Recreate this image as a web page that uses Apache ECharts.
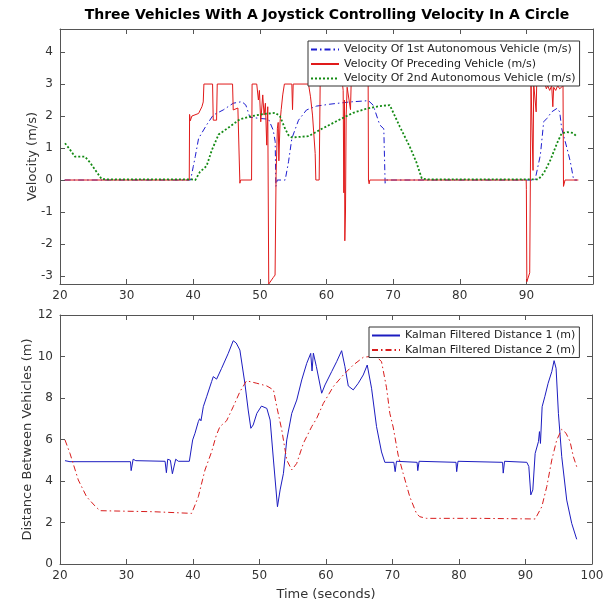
<!DOCTYPE html>
<html>
<head>
<meta charset="utf-8">
<script src="https://cdn.jsdelivr.net/npm/echarts@6/dist/echarts.min.js"></script>
<style>
html,body{margin:0;padding:0;background:#fff}
#main{width:608px;height:603px}
</style>
</head>
<body>
<div id="main"></div>
<script>
// velocity plot: [time (s), velocity (m/s)]
var vel1st = [[20.7,0],[39.6,0],[40.0,0.42],[40.3,0.73],[40.8,1.3],[41.0,1.35],[42.0,1.72],[43.0,2.03],[44.5,2.19],[46.0,2.4],[47.3,2.45],[47.9,2.34],[48.5,1.96],[50.3,1.92],[51.3,1.9],[52.0,1.56],[52.3,1.2],[52.4,-0.2],[52.6,0],[53.8,0],[54.3,0.57],[54.8,1.3],[55.8,1.87],[57.0,2.19],[58.5,2.31],[60.5,2.37],[63.5,2.44],[66.3,2.48],[67.0,2.34],[68.0,1.72],[68.6,1.6],[68.8,-0.1],[69.0,0],[91.3,0],[92.1,0.78],[92.6,1.82],[93.1,1.93],[93.8,2.13],[94.6,2.24],[95.0,2.13],[95.3,1.61],[96.1,0.99],[96.6,0.57],[97.1,0],[97.6,0]];
var velLead = [[20.7,0],[39.4,0],[39.45,2.05],[39.55,1.85],[39.8,2.0],[40.8,2.08],[41.3,2.29],[41.5,2.44],[41.6,3.0],[42.9,3.0],[43.0,1.87],[43.5,1.87],[43.6,3.0],[45.9,3.0],[46.0,2.19],[46.7,2.25],[47.0,-0.1],[47.1,0],[48.75,0],[48.83,3.0],[49.53,3.0],[49.78,2.5],[49.93,2.8],[50.13,1.82],[50.43,2.66],[50.63,2.03],[50.83,2.4],[51.03,1.09],[51.18,2.29],[51.33,-3.25],[51.63,-3.25],[52.0,-3.05],[52.28,-2.97],[52.43,0.16],[52.63,1.62],[52.75,1.8],[52.85,0.6],[53.03,1.82],[53.2,2.2],[53.43,2.66],[53.68,3.0],[54.8,3.0],[54.9,2.2],[55.0,3.0],[57.3,3.0],[57.6,2.6],[57.9,2.03],[58.3,0.83],[58.4,0],[58.9,0],[59.05,3.0],[62.4,3.0],[62.5,2.8],[62.6,-0.4],[62.7,2.5],[62.75,-1.9],[62.85,-1.0],[62.95,2.0],[63.1,2.9],[63.4,2.9],[63.6,2.2],[63.7,3.0],[66.25,3.0],[66.3,0],[66.4,-0.12],[66.5,0],[89.97,0],[90.0,-0.3],[90.07,-3.18],[90.3,-3.18],[90.5,-2.9],[90.7,3.0],[90.95,3.0],[91.0,0.3],[91.1,3.0],[91.4,3.0],[91.47,2.13],[91.55,3.0],[92.8,3.0],[93.0,2.85],[93.2,2.95],[93.5,2.8],[93.8,2.95],[93.97,2.29],[94.1,2.9],[94.4,2.8],[94.7,2.95],[95.0,2.85],[95.5,2.95],[95.57,-0.2],[95.7,-0.2],[95.8,0],[97.8,0]];
var vel2nd = [[20.75,1.15],[21.5,0.95],[22.25,0.73],[23.75,0.73],[24.5,0.55],[25.5,0.25],[26.25,0.03],[27.0,0.02],[39.8,0.02],[40.3,0],[41.0,0.25],[42.0,0.44],[42.8,0.94],[43.8,1.42],[45.5,1.67],[47.0,1.9],[48.8,2.0],[50.5,2.06],[52.3,2.1],[53.0,2.0],[53.8,1.6],[54.3,1.4],[54.8,1.33],[57.3,1.37],[59.3,1.6],[61.8,1.87],[64.0,2.1],[66.0,2.23],[68.0,2.31],[69.5,2.34],[69.7,2.3],[71.0,1.67],[72.5,1.04],[73.5,0.55],[74.3,0.05],[75.0,0.02],[91.8,0.02],[92.6,0.21],[93.6,0.62],[94.6,1.15],[95.3,1.46],[96.1,1.5],[97.0,1.47],[97.6,1.35]];

// distance plot: [time (s), distance (m)]
var dist1 = [[20.75,4.98],[21.5,4.93],[30.6,4.93],[30.7,4.5],[30.85,4.5],[31.0,5.05],[31.4,4.98],[35.8,4.95],[36.0,4.4],[36.2,5.05],[36.6,5.0],[36.9,4.35],[37.1,4.4],[37.4,5.05],[37.8,4.95],[39.45,4.95],[39.95,5.98],[40.3,6.3],[40.8,6.86],[41.0,7.0],[41.2,6.9],[41.55,7.58],[42.05,8.06],[42.8,8.79],[43.05,9.03],[43.55,8.91],[44.3,9.43],[45.3,10.15],[46.05,10.76],[46.5,10.65],[47.05,10.31],[47.8,8.71],[48.3,7.42],[48.7,6.54],[49.05,6.7],[49.6,7.26],[50.3,7.61],[51.1,7.5],[51.6,6.94],[52.1,5.01],[52.7,2.76],[53.1,3.57],[53.6,4.37],[54.1,5.98],[54.85,7.26],[55.6,7.9],[56.35,8.87],[57.1,9.67],[57.7,10.15],[57.9,9.3],[58.1,10.16],[58.3,10.1],[58.55,9.52],[59.35,8.23],[59.85,8.63],[60.85,9.27],[61.6,9.75],[62.35,10.28],[62.85,9.51],[63.35,8.58],[64.1,8.39],[64.85,8.71],[65.6,9.11],[66.2,9.59],[66.85,8.47],[67.6,6.62],[68.35,5.4],[68.85,4.9],[70.2,4.9],[70.4,4.45],[70.6,4.95],[73.7,4.9],[73.8,4.5],[74.0,4.95],[79.55,4.9],[79.65,4.45],[79.85,4.95],[86.55,4.9],[86.65,4.38],[86.85,4.95],[90.2,4.9],[90.5,4.7],[90.8,3.33],[91.1,3.57],[91.45,5.33],[91.95,5.9],[92.1,6.38],[92.25,5.81],[92.5,7.58],[92.9,8.06],[93.4,8.71],[93.95,9.27],[94.3,9.8],[94.6,9.43],[94.95,7.26],[95.45,5.17],[96.2,3.08],[96.95,1.96],[97.7,1.19]];
var dist2 = [[20.75,5.98],[21.5,5.33],[22.75,4.05],[24.0,3.24],[25.25,2.8],[26.0,2.57],[29.0,2.55],[34.0,2.52],[39.8,2.44],[40.05,2.52],[40.8,3.24],[41.8,4.53],[42.8,5.41],[43.5,6.2],[44.05,6.62],[45.05,6.9],[46.05,7.58],[47.05,8.3],[48.05,8.83],[49.6,8.71],[51.1,8.58],[52.1,8.39],[52.6,7.58],[53.35,6.46],[54.1,5.01],[54.85,4.53],[55.6,4.85],[56.6,5.82],[57.85,6.62],[58.6,7.02],[59.6,7.74],[61.1,8.55],[62.6,9.11],[64.1,9.59],[65.6,9.96],[66.6,10.0],[67.6,10.0],[68.35,9.75],[69.1,8.5],[69.6,7.26],[70.1,6.6],[70.85,5.25],[71.6,4.37],[72.6,3.24],[73.6,2.44],[74.1,2.28],[75.1,2.2],[83.1,2.2],[91.45,2.17],[92.45,2.76],[93.2,3.73],[93.95,5.01],[94.7,5.98],[95.45,6.49],[96.1,6.3],[96.7,5.9],[97.2,5.17],[97.7,4.69]];

var names = ['Velocity Of 1st Autonomous Vehicle (m/s)', 'Velocity Of Preceding Vehicle (m/s)', 'Velocity Of 2nd Autonomous Vehicle (m/s)', 'Kalman Filtered Distance 1 (m)', 'Kalman Filtered Distance 2 (m)'];

var chart = echarts.init(document.getElementById('main'));
var font = 'DejaVu Sans';
var axisCol = '#555';
var dashDot = [6, 3, 1.5, 3];

function xAx(grid, pos, extra) {
  var a = {
    gridIndex: grid, type: 'value', position: pos, min: 20, max: 100, interval: 10,
    axisLine: {onZero: false, lineStyle: {color: axisCol, width: 1}},
    axisTick: {inside: true, length: 5, lineStyle: {color: axisCol}},
    axisLabel: {show: pos == 'bottom', color: '#333', fontFamily: font, fontSize: 12, margin: 6},
    splitLine: {show: false}
  };
  return Object.assign(a, extra || {});
}
function yAx(grid, pos, min, max, extra) {
  var a = {
    gridIndex: grid, type: 'value', position: pos, min: min, max: max,
    axisLine: {onZero: false, lineStyle: {color: axisCol, width: 1}},
    axisTick: {inside: true, length: 5, lineStyle: {color: axisCol}},
    axisLabel: {show: pos == 'left', color: '#333', fontFamily: font, fontSize: 12, margin: 7},
    splitLine: {show: false}
  };
  return Object.assign(a, extra || {});
}
function legendBox(data, left, top) {
  return {
    data: data, orient: 'vertical', left: left, top: top,
    itemWidth: 28, itemHeight: 10, itemGap: 1.5, padding: [2, 4, 1, 2],
    borderColor: '#333', borderWidth: 1, backgroundColor: '#fff', selectedMode: false,
    itemStyle: {opacity: 0},
    textStyle: {fontFamily: font, fontSize: 11, lineHeight: 13, color: '#222'}
  };
}

var option = {
  backgroundColor: '#fff',
  animation: false,
  title: {
    text: 'Three Vehicles With A Joystick Controlling Velocity In A Circle',
    left: 322, top: 3, textAlign: 'center',
    textStyle: {fontFamily: font, fontSize: 14, fontWeight: 'bold', color: '#000'}
  },
  grid: [
    {left: 60, top: 29, width: 533, height: 255},
    {left: 60, top: 315, width: 532, height: 249}
  ],
  legend: [legendBox(names.slice(0, 3), 308, 41), legendBox(names.slice(3), 369, 327)],
  xAxis: [
    xAx(0, 'bottom', {axisLabel: {color: '#333', fontFamily: font, fontSize: 12, margin: 6, formatter: function (v) { return v == 100 ? '' : v; }}}),
    xAx(0, 'top'),
    xAx(1, 'bottom', {name: 'Time (seconds)', nameLocation: 'middle', nameGap: 24, nameMoveOverlap: false,
      nameTextStyle: {fontFamily: font, fontSize: 13, color: '#333'}}),
    xAx(1, 'top')
  ],
  yAxis: [
    yAx(0, 'left', -3.25, 4.72, {splitNumber: 8, name: 'Velocity (m/s)', nameLocation: 'middle', nameGap: 21, nameMoveOverlap: false,
      nameTextStyle: {fontFamily: font, fontSize: 13, color: '#333'},
      axisLabel: {color: '#333', fontFamily: font, fontSize: 12, margin: 7,
        formatter: function (v) { return Math.abs(v - Math.round(v)) < 1e-6 ? v : ''; }}}),
    yAx(0, 'right', -3.25, 4.72, {splitNumber: 8}),
    yAx(1, 'left', 0, 12, {interval: 2, name: 'Distance Between Vehicles (m)', nameLocation: 'middle', nameGap: 26, nameMoveOverlap: false,
      nameTextStyle: {fontFamily: font, fontSize: 13, color: '#333'}}),
    yAx(1, 'right', 0, 12, {interval: 2})
  ],
  series: [
    {name: names[0], type: 'line', xAxisIndex: 0, yAxisIndex: 0, data: vel1st, symbol: 'none',
      lineStyle: {color: '#1c1cd0', width: 1, type: dashDot}, itemStyle: {color: '#1c1cd0'}},
    {name: names[1], type: 'line', xAxisIndex: 0, yAxisIndex: 0, data: velLead, symbol: 'none',
      lineStyle: {color: '#e01a1a', width: 1}, itemStyle: {color: '#e01a1a'}},
    {name: names[2], type: 'line', xAxisIndex: 0, yAxisIndex: 0, data: vel2nd, symbol: 'none',
      lineStyle: {color: '#138a13', width: 1.8, type: [2, 2]}, itemStyle: {color: '#138a13'}},
    {name: names[3], type: 'line', xAxisIndex: 2, yAxisIndex: 2, data: dist1, symbol: 'none',
      lineStyle: {color: '#1c1cc0', width: 1}, itemStyle: {color: '#1c1cc0'}},
    {name: names[4], type: 'line', xAxisIndex: 2, yAxisIndex: 2, data: dist2, symbol: 'none',
      lineStyle: {color: '#d81c1c', width: 1, type: dashDot}, itemStyle: {color: '#d81c1c'}}
  ]
};
chart.setOption(option);
</script>
</body>
</html>
